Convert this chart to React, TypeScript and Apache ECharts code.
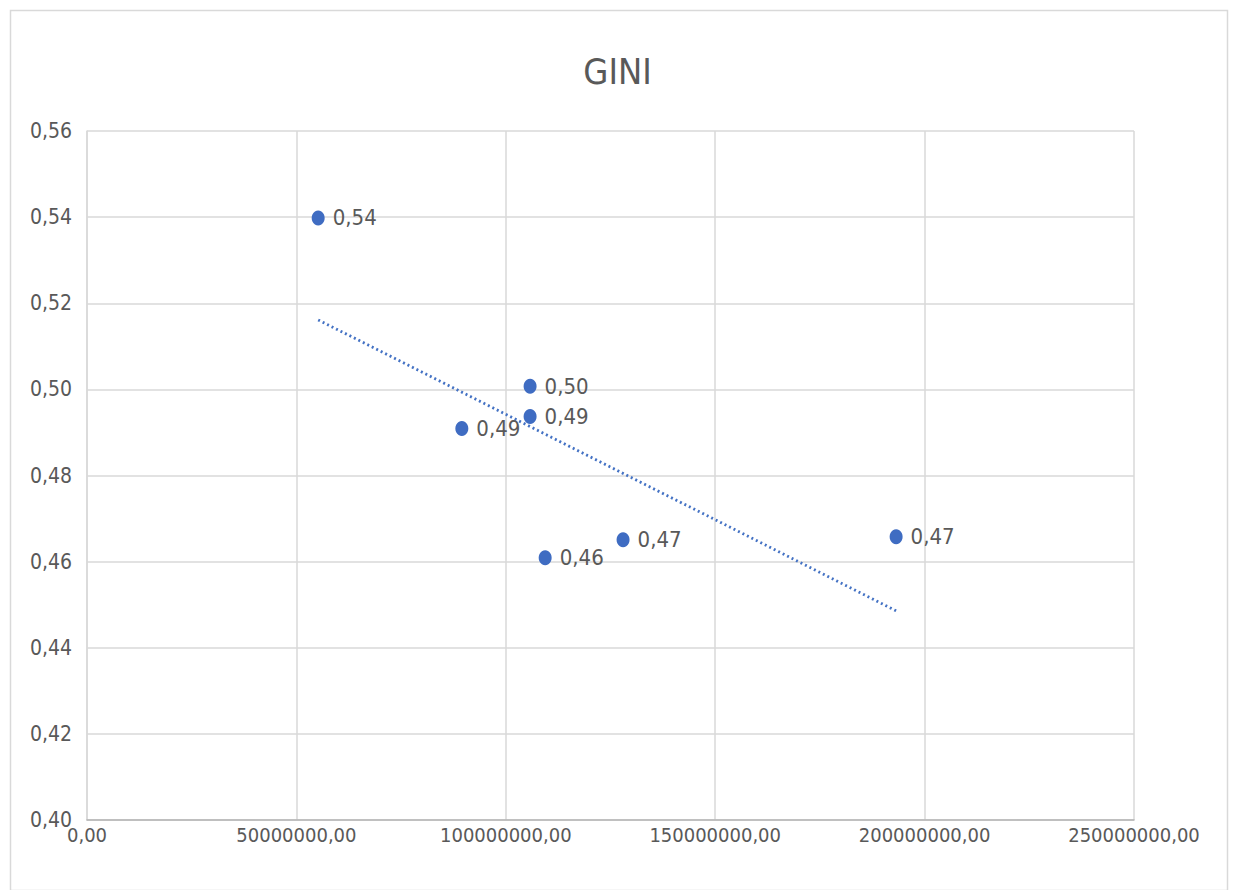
import React, { useEffect, useRef } from "react";
import * as echarts from "echarts";

const titleText = "GINI";
const incomeValues = [55200000, 105800000, 105800000, 89500000, 109400000, 128000000, 193200000];
const giniValues = [0.5398, 0.5007, 0.4937, 0.4909, 0.4609, 0.4651, 0.4658];
const xAxisMin = 0;
const xAxisMax = 250000000;
const xAxisInterval = 50000000;
const yAxisMin = 0.4;
const yAxisMax = 0.56;
const yAxisInterval = 0.02;

const FONT = "'Liberation Sans Narrow', 'DejaVu Sans Condensed', 'Open Sans', sans-serif";
const fmt = (v: number, d: number) => v.toFixed(d).replace(".", ",");

function trend(xs: number[], ys: number[]) {
  const n = xs.length;
  const mx = xs.reduce((a, b) => a + b, 0) / n;
  const my = ys.reduce((a, b) => a + b, 0) / n;
  let sxy = 0, sxx = 0;
  for (let i = 0; i < n; i++) {
    sxy += (xs[i] - mx) * (ys[i] - my);
    sxx += (xs[i] - mx) * (xs[i] - mx);
  }
  const slope = sxy / sxx;
  const x0 = Math.min(...xs);
  const x1 = Math.max(...xs);
  return [
    [x0, my + slope * (x0 - mx)],
    [x1, my + slope * (x1 - mx)],
  ];
}

export default function App() {
  const ref = useRef<HTMLDivElement>(null);
  useEffect(() => {
    if (!ref.current) return;
    const chart = echarts.init(ref.current, null, { renderer: "svg" });
    const points = incomeValues.map((x, i) => [x, giniValues[i]]);
    chart.setOption({
      animation: false,
      backgroundColor: "#ffffff",
      textStyle: { fontFamily: FONT },
      title: {
        text: titleText,
        left: "center",
        top: 48,
        textStyle: { fontFamily: FONT, fontSize: 36, fontWeight: "normal", color: "#595959" },
      },
      graphic: [
        {
          type: "rect",
          shape: { x: 10.5, y: 10.5, width: 1217, height: 880 },
          style: { fill: "none", stroke: "#d9d9d9", lineWidth: 1.5 },
          silent: true,
        },
      ],
      grid: { left: 87, right: 101, top: 131, bottom: 70 },
      xAxis: {
        type: "value",
        min: xAxisMin,
        max: xAxisMax,
        interval: xAxisInterval,
        axisLine: { show: true, lineStyle: { color: "#b4b4b4", width: 1.5 } },
        axisTick: { show: false },
        splitLine: { show: true, lineStyle: { color: "#d9d9d9", width: 1.5 } },
        axisLabel: {
          formatter: (v: number) => fmt(v, 2),
          color: "#595959",
          fontSize: 20,
          fontFamily: FONT,
          margin: 5,
        },
      },
      yAxis: {
        type: "value",
        min: yAxisMin,
        max: yAxisMax,
        interval: yAxisInterval,
        axisLine: { show: true, lineStyle: { color: "#d9d9d9", width: 1.5 } },
        axisTick: { show: false },
        splitLine: { show: true, lineStyle: { color: "#d9d9d9", width: 1.5 } },
        axisLabel: {
          formatter: (v: number) => fmt(v, 2),
          color: "#595959",
          fontSize: 21,
          fontFamily: FONT,
          margin: 15,
        },
      },
      series: [
        {
          type: "line",
          data: trend(incomeValues, giniValues),
          symbol: "none",
          lineStyle: { color: "#4472C4", width: 2.8, type: [2, 3] },
          silent: true,
          z: 1,
        },
        {
          type: "scatter",
          data: points,
          symbol: "circle",
          symbolSize: [13, 15],
          itemStyle: { color: "#3F6CC2", opacity: 1 },
          label: {
            show: true,
            position: "right",
            distance: 8,
            formatter: (p: any) => fmt(p.value[1], 2),
            color: "#595959",
            fontSize: 22,
            fontFamily: FONT,
          },
          z: 3,
        },
      ],
    });
    return () => chart.dispose();
  }, []);
  return (
    <div
      ref={ref}
      style={{ position: "absolute", left: 0, top: 0, width: 1235, height: 890 }}
    />
  );
}
